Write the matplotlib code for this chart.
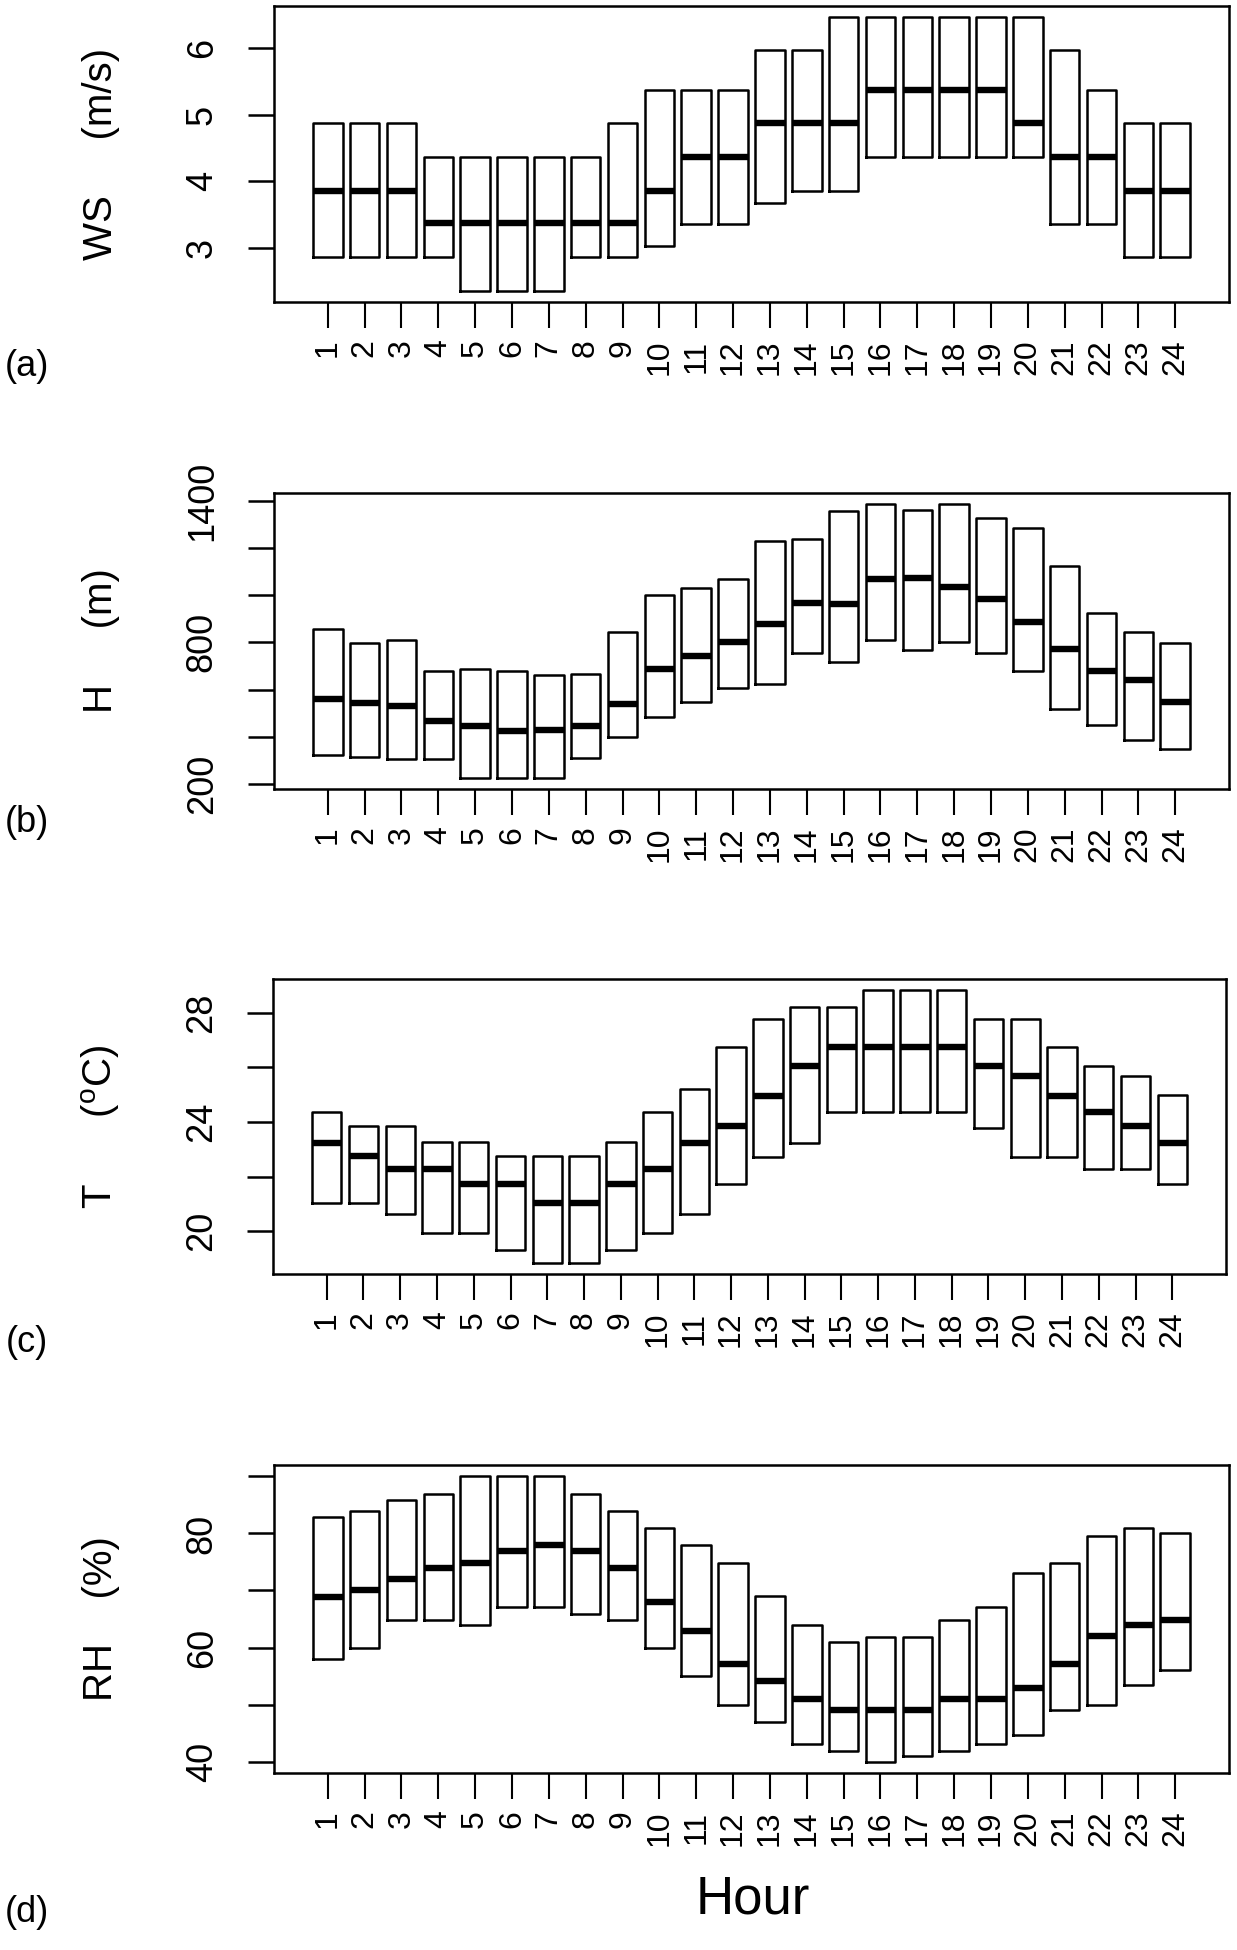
import matplotlib
matplotlib.use("Agg")
import matplotlib.pyplot as plt

plt.rcParams['font.family'] = ['Liberation Sans', 'DejaVu Sans']
plt.rcParams['mathtext.fontset'] = 'custom'
plt.rcParams['mathtext.rm'] = 'Liberation Sans'
plt.rcParams['mathtext.it'] = 'Liberation Sans'

hours = list(range(1, 25))
hour_labels = [str(h) for h in hours]

# (a) wind speed (m/s): lower quartile, median, upper quartile
ws_q1 = [2.86, 2.86, 2.86, 2.86, 2.35, 2.35, 2.35, 2.86, 2.86, 3.02, 3.36, 3.36,
         3.68, 3.86, 3.86, 4.36, 4.36, 4.36, 4.36, 4.36, 3.36, 3.36, 2.86, 2.86]
ws_med = [3.86, 3.86, 3.86, 3.37, 3.37, 3.37, 3.37, 3.37, 3.37, 3.86, 4.37, 4.37,
          4.87, 4.87, 4.87, 5.37, 5.37, 5.37, 5.37, 4.87, 4.36, 4.36, 3.86, 3.86]
ws_q3 = [4.87, 4.87, 4.87, 4.37, 4.37, 4.37, 4.37, 4.37, 4.87, 5.37, 5.37, 5.37,
         5.97, 5.97, 6.47, 6.47, 6.47, 6.47, 6.47, 6.47, 5.97, 5.37, 4.87, 4.87]

# (b) mixing height H (m)
h_q1 = [322, 315, 306, 306, 226, 226, 226, 309, 400, 485, 548, 609,
        626, 755, 718, 810, 767, 800, 755, 681, 519, 452, 389, 349]
h_med = [559, 543, 533, 467, 445, 424, 431, 445, 538, 687, 743, 803,
         878, 967, 962, 1070, 1072, 1035, 984, 885, 774, 678, 641, 549]
h_q3 = [857, 797, 809, 681, 689, 681, 664, 667, 843, 999, 1030, 1068,
        1228, 1237, 1356, 1386, 1360, 1386, 1328, 1285, 1122, 926, 845, 799]

# (c) temperature T (degC)
t_q1 = [21.05, 21.05, 20.64, 19.95, 19.95, 19.32, 18.84, 18.84, 19.32, 19.95, 20.64, 21.74,
        22.73, 23.24, 24.36, 24.36, 24.36, 24.36, 23.78, 22.73, 22.73, 22.29, 22.29, 21.75]
t_med = [23.24, 22.74, 22.29, 22.29, 21.75, 21.75, 21.05, 21.05, 21.75, 22.29, 23.24, 23.84,
         24.96, 26.03, 26.74, 26.74, 26.74, 26.74, 26.03, 25.67, 24.96, 24.36, 23.84, 23.24]
t_q3 = [24.36, 23.84, 23.84, 23.26, 23.26, 22.74, 22.74, 22.74, 23.26, 24.36, 25.21, 26.74,
        27.76, 28.22, 28.22, 28.83, 28.83, 28.83, 27.76, 27.76, 26.74, 26.03, 25.67, 24.98]

# (d) relative humidity RH (%)
rh_q1 = [57.9, 59.9, 64.9, 64.9, 63.9, 67.1, 67.1, 65.9, 64.9, 59.9, 55.0, 49.9,
         46.9, 43.0, 41.9, 40.0, 41.0, 41.9, 43.0, 44.6, 49.1, 49.9, 53.5, 56.0]
rh_med = [68.8, 70.0, 72.0, 73.9, 74.9, 76.9, 78.0, 76.9, 73.9, 67.9, 62.9, 57.1,
          54.2, 50.9, 49.0, 49.0, 49.0, 50.9, 50.9, 52.9, 57.1, 62.0, 63.9, 64.9]
rh_q3 = [82.9, 83.9, 85.9, 86.9, 90.0, 90.0, 90.0, 86.9, 83.9, 80.9, 77.9, 74.8,
         69.0, 63.9, 60.9, 61.9, 61.9, 64.9, 67.1, 73.0, 74.9, 79.5, 80.9, 80.0]

ws_ticks = [3, 4, 5, 6]
ws_ticklabels = ['3', '4', '5', '6']
h_ticks = [200, 400, 600, 800, 1000, 1200, 1400]
h_ticklabels = ['200', '', '', '800', '', '', '1400']
t_ticks = [20, 22, 24, 26, 28]
t_ticklabels = ['20', '', '24', '', '28']
rh_ticks = [40, 50, 60, 70, 80, 90]
rh_ticklabels = ['40', '', '60', '', '80', '']

ylabels = ['WS     (m/s)', 'H     (m)', r'T      ($^{\mathrm{o}}$C)', 'RH    (%)']
panel_tags = ['(a)', '(b)', '(c)', '(d)']

W, H = 1237, 1950
fig = plt.figure(figsize=(W / 100, H / 100), dpi=100)

# axes boxes in pixels: left, right, top, bottom
boxes = [(274, 1229, 6, 302), (274, 1229, 493, 789), (273, 1226, 979, 1274), (274, 1229, 1465, 1773)]
tag_y = [367, 822, 1342, 1912]

panels = [
    (ws_q1, ws_med, ws_q3, ws_ticks, ws_ticklabels),
    (h_q1, h_med, h_q3, h_ticks, h_ticklabels),
    (t_q1, t_med, t_q3, t_ticks, t_ticklabels),
    (rh_q1, rh_med, rh_q3, rh_ticks, rh_ticklabels),
]

for i, ((q1, med, q3, yt, ytl), (l, r, t, b)) in enumerate(zip(panels, boxes)):
    ax = fig.add_axes([l / W, 1 - b / H, (r - l) / W, (b - t) / H])
    stats = [dict(med=m, q1=a, q3=c, whislo=a, whishi=c, fliers=[], label=lab)
             for a, m, c, lab in zip(q1, med, q3, hour_labels)]
    ax.bxp(stats, positions=hours, widths=0.8, showcaps=False, showfliers=False,
           boxprops=dict(color='black', linewidth=1.8),
           whiskerprops=dict(linewidth=0),
           medianprops=dict(color='black', linewidth=4.6, solid_capstyle='butt'))
    lo, hi = min(q1), max(q3)
    pad = 0.04 * (hi - lo)
    ax.set_ylim(lo - pad, hi + pad)
    ax.set_xlim(0.5 - 0.96, 24.5 + 0.96)
    ax.set_xticks(hours)
    ax.set_xticklabels(hour_labels, rotation=90, fontsize=23)
    ax.set_yticks(yt)
    ax.set_yticklabels(ytl, rotation=90, fontsize=26, va='center')
    ax.tick_params(axis='x', length=19, width=1.5, pad=8, direction='out')
    ax.tick_params(axis='y', length=19, width=1.8, pad=20, direction='out')
    for s in ax.spines.values():
        s.set_linewidth(1.8)
    fig.text(101 / W, 1 - ((t + b) / 2) / H, ylabels[i], rotation=90,
             ha='center', va='center', fontsize=29)
    fig.text(27 / W, 1 - tag_y[i] / H, panel_tags[i], ha='center', va='center', fontsize=26)

fig.text(753 / W, 1 - 1899 / H, 'Hour', ha='center', va='center', fontsize=38)

fig.savefig('out.png', dpi=100)
